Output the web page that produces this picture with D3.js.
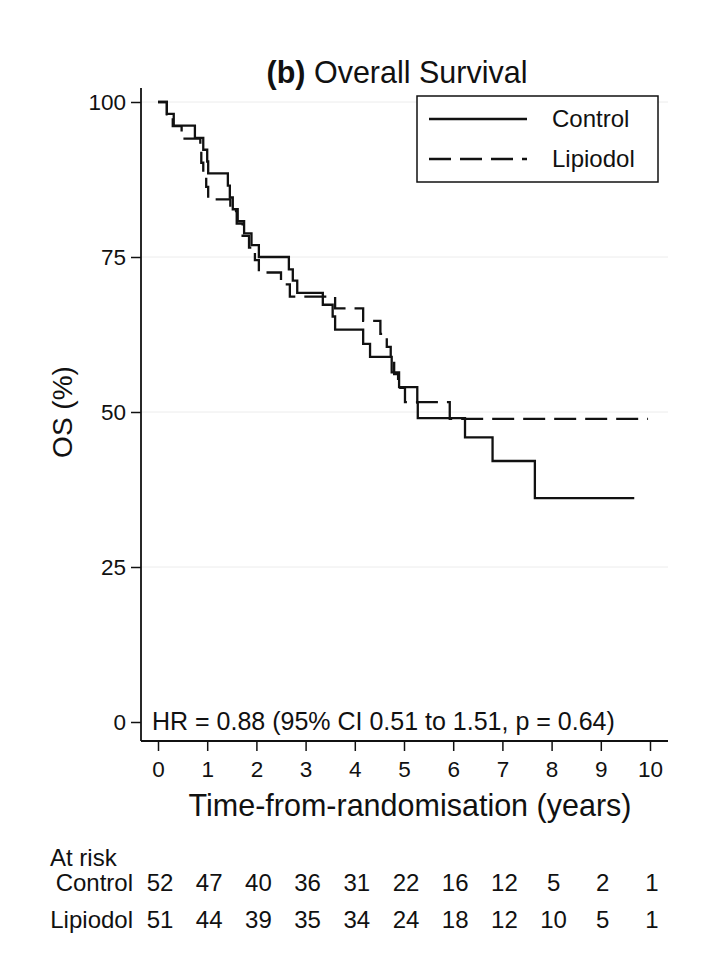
<!DOCTYPE html>
<html>
<head>
<meta charset="utf-8">
<script src="https://cdn.jsdelivr.net/npm/d3@7"></script>
<style>
  html, body { margin: 0; padding: 0; background: #fff; }
  svg { display: block; }
  text { font-family: "Liberation Sans", Arial, Helvetica, sans-serif; fill: #111; }
</style>
</head>
<body>
<script>
// ---- data ----
const xTicks = [0, 1, 2, 3, 4, 5, 6, 7, 8, 9, 10];
const yTicks = [0, 25, 50, 75, 100];
const controlTimes = [0, 0.18, 0.32, 0.75, 0.92, 1.0, 1.02, 1.42, 1.46, 1.52, 1.62, 1.75, 1.9, 2.05, 2.66, 2.74, 2.83, 3.35, 3.55, 3.6, 4.17, 4.31, 4.75, 4.9, 5.27, 5.28, 6.24, 6.8, 7.66, 9.68];
const controlSurv  = [100, 98.1, 96.2, 94.2, 92.3, 90.4, 88.5, 86.5, 84.6, 82.7, 80.8, 78.8, 76.9, 75.0, 73.0, 71.2, 69.2, 67.3, 65.4, 63.3, 61.0, 58.9, 56.4, 54.0, 51.5, 49.0, 45.9, 42.1, 36.1, 36.1];
const lipiodolTimes = [0, 0.18, 0.3, 0.48, 0.86, 0.88, 0.92, 0.98, 1.02, 1.47, 1.6, 1.72, 1.85, 1.97, 2.05, 2.5, 2.68, 3.6, 4.17, 4.52, 4.65, 4.73, 4.8, 4.88, 5.02, 5.93, 9.96];
const lipiodolSurv  = [100, 98.0, 96.1, 94.1, 92.2, 90.2, 88.2, 86.3, 84.3, 82.4, 80.4, 78.4, 76.5, 74.5, 72.5, 70.6, 68.6, 66.7, 64.7, 62.6, 60.5, 58.3, 56.1, 53.9, 51.6, 48.9, 48.9];
const groups = ["Control", "Lipiodol"];
const atRiskControl  = [52, 47, 40, 36, 31, 22, 16, 12, 5, 2, 1];
const atRiskLipiodol = [51, 44, 39, 35, 34, 24, 18, 12, 10, 5, 1];
const titleBold = "(b)";
const titleText = " Overall Survival";
const xTitle = "Time-from-randomisation (years)";
const yTitle = "OS (%)";
const hrText = "HR = 0.88 (95% CI 0.51 to 1.51, p = 0.64)";

// ---- layout ----
const W = 718, H = 953;
const svg = d3.select("body").append("svg").attr("width", W).attr("height", H);

const x = d3.scaleLinear().domain([0, 10]).range([158, 650]);
const y = d3.scaleLinear().domain([0, 100]).range([722, 102]);
const axisX = 141, axisY = 741;

// gridlines
svg.append("g").selectAll("line").data(yTicks.filter(d => d > 0)).join("line")
  .attr("x1", axisX).attr("x2", 668)
  .attr("y1", d => y(d)).attr("y2", d => y(d))
  .attr("stroke", "#ececec").attr("stroke-width", 1);

// y axis
const gy = svg.append("g").attr("transform", `translate(${axisX},0)`)
  .call(d3.axisLeft(y).tickValues(yTicks).tickSize(10).tickPadding(5));
gy.select(".domain").remove();
gy.selectAll(".tick line").attr("stroke", "#111").attr("stroke-width", 1.5);
gy.selectAll(".tick text").attr("font-size", 22.5).attr("font-family", null);
svg.append("line").attr("x1", axisX).attr("x2", axisX).attr("y1", 88).attr("y2", axisY)
  .attr("stroke", "#111").attr("stroke-width", 1.8);

// x axis
const gx = svg.append("g").attr("transform", `translate(0,${axisY})`)
  .call(d3.axisBottom(x).tickValues(xTicks).tickFormat(d3.format("d")).tickSize(10).tickPadding(10));
gx.select(".domain").remove();
gx.selectAll(".tick line").attr("stroke", "#111").attr("stroke-width", 1.5);
gx.selectAll(".tick text").attr("font-size", 22.5).attr("font-family", null);
svg.append("line").attr("x1", axisX).attr("x2", 668).attr("y1", axisY).attr("y2", axisY)
  .attr("stroke", "#111").attr("stroke-width", 1.8);

// curves
const line = d3.line().x(d => x(d[0])).y(d => y(d[1])).curve(d3.curveStepAfter);
const ctrl = d3.zip(controlTimes, controlSurv);
const lip = d3.zip(lipiodolTimes, lipiodolSurv);
svg.append("path").datum(lip).attr("d", line).attr("fill", "none")
  .attr("stroke", "#111").attr("stroke-width", 2.3).attr("stroke-dasharray", "22,9");
svg.append("path").datum(ctrl).attr("d", line).attr("fill", "none")
  .attr("stroke", "#111").attr("stroke-width", 2.3);

// title
const t = svg.append("text").attr("x", 397).attr("y", 83).attr("text-anchor", "middle").attr("font-size", 30.5);
t.append("tspan").attr("font-weight", "bold").text(titleBold);
t.append("tspan").text(titleText);

// axis titles
svg.append("text").attr("x", 410).attr("y", 816).attr("text-anchor", "middle")
  .attr("font-size", 30.5).text(xTitle);
svg.append("text").attr("transform", "translate(72,412) rotate(-90)").attr("text-anchor", "middle")
  .attr("font-size", 28).text(yTitle);

// HR
svg.append("text").attr("x", 152).attr("y", 730).attr("font-size", 25).text(hrText);

// legend
const lg = svg.append("g");
lg.append("rect").attr("x", 417).attr("y", 96).attr("width", 241).attr("height", 86)
  .attr("fill", "#fff").attr("stroke", "#111").attr("stroke-width", 1.5);
groups.forEach((g, i) => {
  const yy = 119 + i * 40;
  lg.append("line").attr("x1", 429).attr("x2", 527).attr("y1", yy).attr("y2", yy)
    .attr("stroke", "#111").attr("stroke-width", 2.3)
    .attr("stroke-dasharray", i === 1 ? "22,9" : null);
  lg.append("text").attr("x", 552).attr("y", yy + 8).attr("font-size", 24).text(g);
});

// at risk table
svg.append("text").attr("x", 50).attr("y", 866).attr("font-size", 24).text("At risk");
const rows = [atRiskControl, atRiskLipiodol];
rows.forEach((r, i) => {
  const yy = 891 + i * 37;
  svg.append("text").attr("x", 133).attr("y", yy).attr("text-anchor", "end").attr("font-size", 24).text(groups[i]);
  svg.append("g").selectAll("text").data(r).join("text")
    .attr("x", (d, j) => x(xTicks[j]) + 2).attr("y", yy).attr("text-anchor", "middle")
    .attr("font-size", 24).text(d => d);
});
</script>
</body>
</html>
